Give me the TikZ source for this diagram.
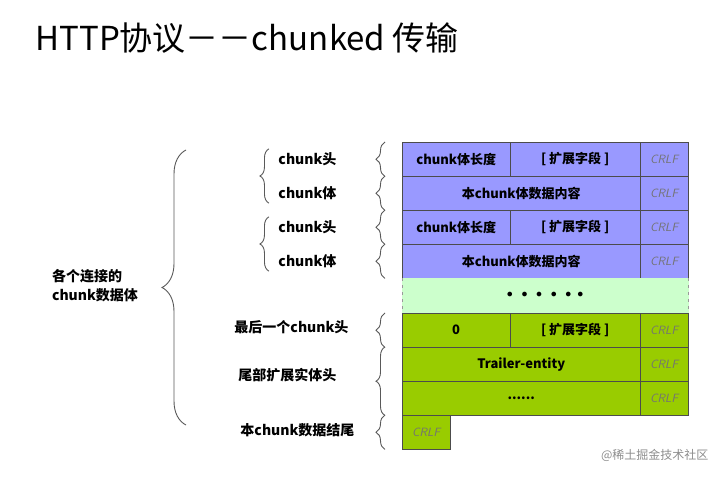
\documentclass[tikz,border=0pt]{standalone}
\usepackage{fontspec}
\setmainfont{Noto Sans CJK SC}
\usetikzlibrary{decorations.pathreplacing}
\definecolor{headblue}{HTML}{9999FF}
\definecolor{gapgreen}{HTML}{CCFFCC}
\definecolor{lastgreen}{HTML}{99CC00}
\tikzset{
  cell/.style={draw=black!70, anchor=north west, minimum height=34pt, inner sep=0pt, font=\fontsize{13}{15}\selectfont\bfseries},
  crlf/.style={cell, minimum width=48pt, text=black!55, font=\fontsize{12}{14}\selectfont\itshape\sffamily},
  lbl/.style={font=\fontsize{14}{16}\selectfont\bfseries, anchor=east},
  brc/.style={decorate, decoration={brace, amplitude=9pt}, black!65, line width=0.9pt}
}
\begin{document}
\begin{tikzpicture}[x=1pt,y=-1pt]
\useasboundingbox (0,0) rectangle (725,478);
\node[anchor=west, font=\fontsize{33}{36}\selectfont] (title) at (32,38) {HTTP协议－－chunked 传输};
% chunk rows
\node[cell, fill=headblue, minimum width=108pt] (a1) at (402,142) {chunk体长度};
\node[cell, fill=headblue, minimum width=130pt] (a2) at (510,142) {[ 扩展字段 ]};
\node[crlf, fill=headblue] (a3) at (640,142) {CRLF};
\node[cell, fill=headblue, minimum width=238pt] (b1) at (402,176) {本chunk体数据内容};
\node[crlf, fill=headblue] (b2) at (640,176) {CRLF};
\node[cell, fill=headblue, minimum width=108pt] (c1) at (402,210) {chunk体长度};
\node[cell, fill=headblue, minimum width=130pt] (c2) at (510,210) {[ 扩展字段 ]};
\node[crlf, fill=headblue] (c3) at (640,210) {CRLF};
\node[cell, fill=headblue, minimum width=238pt] (d1) at (402,244) {本chunk体数据内容};
\node[crlf, fill=headblue] (d2) at (640,244) {CRLF};
\node[cell, fill=gapgreen, draw=gapgreen, minimum width=286pt] (gap) at (402,278) {$\bullet\ \ \bullet\ \ \bullet\ \ \bullet\ \ \bullet\ \ \bullet$};
\draw[black!40, dash pattern=on 3pt off 4pt] (gap.north west) -- (gap.south west);
\draw[black!40, dash pattern=on 3pt off 4pt] (gap.north east) -- (gap.south east);
% last chunk
\node[cell, fill=lastgreen, minimum width=108pt] (e1) at (402,313) {0};
\node[cell, fill=lastgreen, minimum width=130pt] (e2) at (510,313) {[ 扩展字段 ]};
\node[crlf, fill=lastgreen] (e3) at (640,313) {CRLF};
\node[cell, fill=lastgreen, minimum width=238pt] (f1) at (402,347) {Trailer-entity};
\node[crlf, fill=lastgreen] (f2) at (640,347) {CRLF};
\node[cell, fill=lastgreen, minimum width=238pt] (g1) at (402,381) {......};
\node[crlf, fill=lastgreen] (g2) at (640,381) {CRLF};
\node[crlf, fill=lastgreen] (h1) at (402,415) {CRLF};
% labels
\node[lbl] (la) at (340,159) {chunk头};
\node[lbl] (lb) at (340,193) {chunk体};
\node[lbl] (lc) at (340,227) {chunk头};
\node[lbl] (ld) at (340,261) {chunk体};
\node[lbl] (le) at (352,327) {最后一个chunk头};
\node[lbl] (lf) at (340,375) {尾部扩展实体头};
\node[lbl] (lh) at (358,430) {本chunk数据结尾};
\node[font=\fontsize{14}{19}\selectfont\bfseries, align=left] (all) at (95,286) {各个连接的\\chunk数据体};
\node[text=black!45, font=\fontsize{12}{14}\selectfont, anchor=east] (mark) at (712,455) {@稀土掘金技术社区};
% braces
\foreach \r in {a1,b1,c1,d1,e1,h1}
  \draw[brc] ([xshift=-17pt]\r.south west) -- ([xshift=-17pt]\r.north west);
\draw[brc] ([xshift=-17pt]g1.south west) -- ([xshift=-17pt]f1.north west);
\draw[brc] ([xshift=-6pt]lb.south west) -- ([xshift=-6pt]la.north west);
\draw[brc] ([xshift=-6pt]ld.south west) -- ([xshift=-6pt]lc.north west);
\draw[brc, decoration={amplitude=24pt}] (186,425) -- (186,150);
\end{tikzpicture}
\end{document}
